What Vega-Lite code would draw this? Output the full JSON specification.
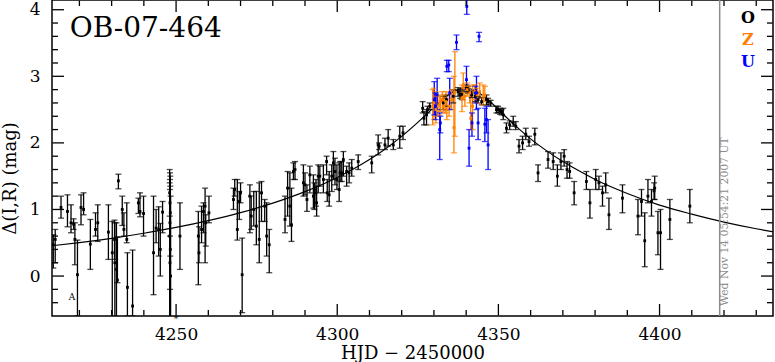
{
  "$schema": "https://vega.github.io/schema/vega-lite/v6.json",
  "width": 721,
  "height": 316,
  "autosize": {"type": "none"},
  "padding": {"left": 52, "top": 0, "right": 2, "bottom": 46},
  "background": "white",
  "config": {
    "view": {"stroke": "black", "strokeWidth": 1.5},
    "axis": {"domain": false, "grid": false, "ticks": false, "labelFont": "DejaVu Serif", "titleFont": "DejaVu Serif", "labelFontSize": 17, "titleFontSize": 18, "labelColor": "black", "titleColor": "black", "titleFontWeight": "normal"},
    "text": {"font": "DejaVu Serif"}
  },
  "datasets": {
    "xticks": [
      {"v": 4220, "k": "minor"}, {"v": 4230, "k": "minor"}, {"v": 4240, "k": "minor"}, {"v": 4250, "k": "major"},
      {"v": 4260, "k": "minor"}, {"v": 4270, "k": "minor"}, {"v": 4280, "k": "minor"}, {"v": 4290, "k": "minor"},
      {"v": 4300, "k": "major"}, {"v": 4310, "k": "minor"}, {"v": 4320, "k": "minor"}, {"v": 4330, "k": "minor"},
      {"v": 4340, "k": "minor"}, {"v": 4350, "k": "major"}, {"v": 4360, "k": "minor"}, {"v": 4370, "k": "minor"},
      {"v": 4380, "k": "minor"}, {"v": 4390, "k": "minor"}, {"v": 4400, "k": "major"}, {"v": 4410, "k": "minor"},
      {"v": 4420, "k": "minor"}, {"v": 4430, "k": "minor"}
    ],
    "yticks": [
      {"v": -0.4, "k": "minor"}, {"v": -0.2, "k": "minor"}, {"v": 0, "k": "major"}, {"v": 0.2, "k": "minor"},
      {"v": 0.4, "k": "minor"}, {"v": 0.6, "k": "minor"}, {"v": 0.8, "k": "minor"}, {"v": 1, "k": "major"},
      {"v": 1.2, "k": "minor"}, {"v": 1.4, "k": "minor"}, {"v": 1.6, "k": "minor"}, {"v": 1.8, "k": "minor"},
      {"v": 2, "k": "major"}, {"v": 2.2, "k": "minor"}, {"v": 2.4, "k": "minor"}, {"v": 2.6, "k": "minor"},
      {"v": 2.8, "k": "minor"}, {"v": 3, "k": "major"}, {"v": 3.2, "k": "minor"}, {"v": 3.4, "k": "minor"},
      {"v": 3.6, "k": "minor"}, {"v": 3.8, "k": "minor"}, {"v": 4, "k": "major"}
    ],
    "curve": [
      {"t": 4211.5, "f": 0.455}, {"t": 4220, "f": 0.502}, {"t": 4230, "f": 0.567}, {"t": 4240, "f": 0.643},
      {"t": 4250, "f": 0.73}, {"t": 4260, "f": 0.832}, {"t": 4270, "f": 0.952}, {"t": 4280, "f": 1.095},
      {"t": 4290, "f": 1.268}, {"t": 4300, "f": 1.481}, {"t": 4305, "f": 1.607}, {"t": 4310, "f": 1.749},
      {"t": 4315, "f": 1.912}, {"t": 4320, "f": 2.098}, {"t": 4325, "f": 2.308}, {"t": 4330, "f": 2.534},
      {"t": 4333, "f": 2.663}, {"t": 4336, "f": 2.768}, {"t": 4338, "f": 2.812}, {"t": 4340, "f": 2.829},
      {"t": 4342, "f": 2.8}, {"t": 4344, "f": 2.75}, {"t": 4347, "f": 2.64}, {"t": 4350, "f": 2.5},
      {"t": 4355, "f": 2.27}, {"t": 4360, "f": 2.06}, {"t": 4365, "f": 1.88}, {"t": 4370, "f": 1.72},
      {"t": 4375, "f": 1.58}, {"t": 4380, "f": 1.45}, {"t": 4390, "f": 1.24}, {"t": 4400, "f": 1.065},
      {"t": 4410, "f": 0.93}, {"t": 4420, "f": 0.81}, {"t": 4430, "f": 0.71}, {"t": 4435.2, "f": 0.665}
    ],
    "obs": [
      {"t": 4211.9, "m": 0.47, "lo": 0.12, "hi": 0.62, "s": "O"},
      {"t": 4212.5, "m": 0.55, "lo": 0.2, "hi": 0.7, "s": "O"},
      {"t": 4214.3, "m": 1.03, "lo": 0.87, "hi": 1.2, "s": "O"},
      {"t": 4216.3, "m": 0.97, "lo": 0.74, "hi": 1.22, "s": "O"},
      {"t": 4217.4, "m": 0.8, "lo": 0.65, "hi": 1.07, "s": "O"},
      {"t": 4218.2, "m": 0.78, "lo": 0.7, "hi": 0.86, "s": "O"},
      {"t": 4218.6, "m": 0.55, "lo": 0.17, "hi": 0.8, "s": "O"},
      {"t": 4219.4, "m": 0.02, "lo": -0.6, "hi": 0.54, "s": "O"},
      {"t": 4220.5, "m": 1.03, "lo": 0.77, "hi": 1.22, "s": "O"},
      {"t": 4221.3, "m": 1.0, "lo": 0.92, "hi": 1.25, "s": "O"},
      {"t": 4223.4, "m": 0.48, "lo": 0.1, "hi": 0.85, "s": "O"},
      {"t": 4225.0, "m": 0.7, "lo": 0.6, "hi": 0.95, "s": "O"},
      {"t": 4225.7, "m": 0.8, "lo": 0.52, "hi": 1.07, "s": "O"},
      {"t": 4229.0, "m": 0.66, "lo": 0.25, "hi": 1.07, "s": "O"},
      {"t": 4230.2, "m": 0.35, "lo": -0.8, "hi": 0.82, "s": "O"},
      {"t": 4230.9, "m": 0.55, "lo": 0.25, "hi": 0.84, "s": "O"},
      {"t": 4231.0, "m": 0.2, "lo": -0.8, "hi": 0.8, "s": "O"},
      {"t": 4231.5, "m": 0.1, "lo": -0.8, "hi": 0.8, "s": "O"},
      {"t": 4231.8, "m": -0.06, "lo": -0.1, "hi": 0.59, "s": "O"},
      {"t": 4232.1, "m": 1.43, "lo": 1.31, "hi": 1.53, "s": "O"},
      {"t": 4233.3, "m": 1.0, "lo": 0.76, "hi": 1.2, "s": "O"},
      {"t": 4233.8, "m": 0.7, "lo": 0.6, "hi": 0.95, "s": "O"},
      {"t": 4234.7, "m": 0.55, "lo": 0.5, "hi": 1.1, "s": "O"},
      {"t": 4234.9, "m": -0.17, "lo": -0.6, "hi": 0.35, "s": "O"},
      {"t": 4236.5, "m": -0.45, "lo": -0.6, "hi": 0.39, "s": "O"},
      {"t": 4238.3, "m": 1.1, "lo": 0.94, "hi": 1.17, "s": "O"},
      {"t": 4238.8, "m": 0.97, "lo": 0.89, "hi": 1.25, "s": "O"},
      {"t": 4239.9, "m": 0.94, "lo": 0.6, "hi": 1.2, "s": "O"},
      {"t": 4243.0, "m": 0.35, "lo": -0.28, "hi": 1.2, "s": "O"},
      {"t": 4243.8, "m": 0.72, "lo": 0.5, "hi": 1.0, "s": "O"},
      {"t": 4244.6, "m": 0.7, "lo": 0.3, "hi": 1.04, "s": "O"},
      {"t": 4245.1, "m": 0.4, "lo": 0.0, "hi": 0.79, "s": "O"},
      {"t": 4245.8, "m": 0.96, "lo": 0.65, "hi": 1.12, "s": "O"},
      {"t": 4248.0, "m": 1.25, "lo": 0.9, "hi": 1.6, "s": "O"},
      {"t": 4248.1, "m": 1.1, "lo": 0.6, "hi": 1.55, "s": "O"},
      {"t": 4248.2, "m": 0.95, "lo": 0.3, "hi": 1.5, "s": "O"},
      {"t": 4248.1, "m": 0.8, "lo": -0.2, "hi": 1.45, "s": "O"},
      {"t": 4248.0, "m": 0.6, "lo": -0.8, "hi": 1.4, "s": "O"},
      {"t": 4248.2, "m": 0.4, "lo": -0.8, "hi": 1.35, "s": "O"},
      {"t": 4248.1, "m": 0.2, "lo": -0.8, "hi": 1.3, "s": "O"},
      {"t": 4248.3, "m": 0.0, "lo": -0.8, "hi": 1.2, "s": "O"},
      {"t": 4251.2, "m": 0.6, "lo": 0.1, "hi": 1.1, "s": "O"},
      {"t": 4256.9, "m": 0.6, "lo": -0.13, "hi": 0.97, "s": "O"},
      {"t": 4257.1, "m": 0.35, "lo": 0.2, "hi": 0.74, "s": "O"},
      {"t": 4257.9, "m": 0.7, "lo": 0.5, "hi": 1.05, "s": "O"},
      {"t": 4258.5, "m": 0.97, "lo": 0.65, "hi": 1.1, "s": "O"},
      {"t": 4259.0, "m": 1.05, "lo": 0.2, "hi": 1.32, "s": "O"},
      {"t": 4259.2, "m": 0.8, "lo": 0.45, "hi": 0.92, "s": "O"},
      {"t": 4260.2, "m": 0.95, "lo": 0.8, "hi": 1.2, "s": "O"},
      {"t": 4267.8, "m": 1.15, "lo": 1.0, "hi": 1.32, "s": "O"},
      {"t": 4268.2, "m": 1.3, "lo": 1.2, "hi": 1.45, "s": "O"},
      {"t": 4269.0, "m": 0.7, "lo": 0.54, "hi": 1.45, "s": "O"},
      {"t": 4269.6, "m": 1.12, "lo": 0.85, "hi": 1.27, "s": "O"},
      {"t": 4270.0, "m": 1.25, "lo": 1.1, "hi": 1.4, "s": "O"},
      {"t": 4270.5, "m": 0.02, "lo": -0.55, "hi": 0.57, "s": "O"},
      {"t": 4272.9, "m": 1.2, "lo": 0.65, "hi": 1.37, "s": "O"},
      {"t": 4273.3, "m": 0.9, "lo": 0.7, "hi": 1.2, "s": "O"},
      {"t": 4274.1, "m": 1.0, "lo": 0.75, "hi": 1.27, "s": "O"},
      {"t": 4274.9, "m": 0.75, "lo": 0.47, "hi": 1.27, "s": "O"},
      {"t": 4275.8, "m": 0.55, "lo": 0.2, "hi": 1.4, "s": "O"},
      {"t": 4276.5, "m": 1.25, "lo": 0.82, "hi": 1.42, "s": "O"},
      {"t": 4277.5, "m": 1.05, "lo": 0.82, "hi": 1.15, "s": "O"},
      {"t": 4278.1, "m": 0.6, "lo": 0.3, "hi": 1.1, "s": "O"},
      {"t": 4278.9, "m": 0.47, "lo": 0.05, "hi": 0.7, "s": "O"},
      {"t": 4283.8, "m": 0.85, "lo": 0.65, "hi": 1.2, "s": "O"},
      {"t": 4284.6, "m": 1.32, "lo": 0.9, "hi": 1.57, "s": "O"},
      {"t": 4285.3, "m": 1.05, "lo": 0.75, "hi": 1.55, "s": "O"},
      {"t": 4285.8, "m": 0.77, "lo": 0.52, "hi": 1.32, "s": "O"},
      {"t": 4286.4, "m": 1.57, "lo": 1.45, "hi": 1.7, "s": "O"},
      {"t": 4286.9, "m": 1.6, "lo": 1.45, "hi": 1.72, "s": "O"},
      {"t": 4289.5, "m": 1.4, "lo": 1.2, "hi": 1.67, "s": "O"},
      {"t": 4290.0, "m": 1.37, "lo": 1.22, "hi": 1.55, "s": "O"},
      {"t": 4290.6, "m": 1.15, "lo": 0.97, "hi": 1.37, "s": "O"},
      {"t": 4291.5, "m": 1.52, "lo": 1.25, "hi": 1.65, "s": "O"},
      {"t": 4292.6, "m": 1.2, "lo": 1.02, "hi": 1.52, "s": "O"},
      {"t": 4292.9, "m": 1.3, "lo": 1.0, "hi": 1.4, "s": "O"},
      {"t": 4293.4, "m": 1.25, "lo": 1.05, "hi": 1.45, "s": "O"},
      {"t": 4293.6, "m": 1.1, "lo": 0.9, "hi": 1.35, "s": "O"},
      {"t": 4294.1, "m": 1.5, "lo": 1.25, "hi": 1.67, "s": "O"},
      {"t": 4294.6, "m": 1.5, "lo": 1.35, "hi": 1.65, "s": "O"},
      {"t": 4295.7, "m": 1.45, "lo": 1.25, "hi": 1.67, "s": "O"},
      {"t": 4296.7, "m": 1.72, "lo": 1.52, "hi": 1.8, "s": "O"},
      {"t": 4296.9, "m": 1.25, "lo": 1.12, "hi": 1.45, "s": "O"},
      {"t": 4297.5, "m": 1.22, "lo": 1.05, "hi": 1.57, "s": "O"},
      {"t": 4298.3, "m": 1.5, "lo": 1.27, "hi": 1.67, "s": "O"},
      {"t": 4298.8, "m": 1.7, "lo": 1.45, "hi": 1.87, "s": "O"},
      {"t": 4299.3, "m": 1.57, "lo": 1.37, "hi": 1.77, "s": "O"},
      {"t": 4299.9, "m": 1.45, "lo": 1.3, "hi": 1.67, "s": "O"},
      {"t": 4300.6, "m": 1.3, "lo": 1.12, "hi": 1.7, "s": "O"},
      {"t": 4300.9, "m": 1.55, "lo": 1.42, "hi": 1.72, "s": "O"},
      {"t": 4301.4, "m": 1.55, "lo": 1.42, "hi": 1.72, "s": "O"},
      {"t": 4301.9, "m": 1.75, "lo": 1.5, "hi": 1.87, "s": "O"},
      {"t": 4302.9, "m": 1.57, "lo": 1.35, "hi": 1.65, "s": "O"},
      {"t": 4303.7, "m": 1.55, "lo": 1.4, "hi": 1.7, "s": "O"},
      {"t": 4304.5, "m": 1.62, "lo": 1.5, "hi": 1.75, "s": "O"},
      {"t": 4306.5, "m": 1.72, "lo": 1.6, "hi": 1.82, "s": "O"},
      {"t": 4310.7, "m": 1.7, "lo": 1.55, "hi": 1.8, "s": "O"},
      {"t": 4312.7, "m": 1.97, "lo": 1.82, "hi": 2.12, "s": "O"},
      {"t": 4313.0, "m": 1.95, "lo": 1.9, "hi": 2.0, "s": "O"},
      {"t": 4314.8, "m": 1.97, "lo": 1.9, "hi": 2.07, "s": "O"},
      {"t": 4315.8, "m": 2.07, "lo": 1.95, "hi": 2.2, "s": "O"},
      {"t": 4317.4, "m": 1.97, "lo": 1.9, "hi": 2.05, "s": "O"},
      {"t": 4319.4, "m": 2.1, "lo": 1.92, "hi": 2.25, "s": "O"},
      {"t": 4320.4, "m": 2.15, "lo": 2.05, "hi": 2.25, "s": "O"},
      {"t": 4326.5, "m": 2.52, "lo": 2.45, "hi": 2.62, "s": "O"},
      {"t": 4326.9, "m": 2.37, "lo": 2.27, "hi": 2.47, "s": "O"},
      {"t": 4327.7, "m": 2.42, "lo": 2.27, "hi": 2.5, "s": "O"},
      {"t": 4328.0, "m": 2.5, "lo": 2.45, "hi": 2.55, "s": "O"},
      {"t": 4328.7, "m": 2.55, "lo": 2.5, "hi": 2.6, "s": "O"},
      {"t": 4332.9, "m": 2.6, "lo": 2.5, "hi": 2.7, "s": "O"},
      {"t": 4333.9, "m": 2.65, "lo": 2.55, "hi": 2.72, "s": "O"},
      {"t": 4336.0, "m": 2.7, "lo": 2.6, "hi": 2.8, "s": "O"},
      {"t": 4337.5, "m": 2.77, "lo": 2.7, "hi": 2.83, "s": "O"},
      {"t": 4338.1, "m": 2.73, "lo": 2.67, "hi": 2.8, "s": "O"},
      {"t": 4338.6, "m": 2.73, "lo": 2.65, "hi": 2.78, "s": "O"},
      {"t": 4340.1, "m": 2.82, "lo": 2.77, "hi": 2.87, "s": "O"},
      {"t": 4340.6, "m": 2.8, "lo": 2.75, "hi": 2.85, "s": "O"},
      {"t": 4341.7, "m": 2.72, "lo": 2.68, "hi": 2.78, "s": "O"},
      {"t": 4342.8, "m": 2.7, "lo": 2.62, "hi": 2.75, "s": "O"},
      {"t": 4343.7, "m": 2.65, "lo": 2.6, "hi": 2.7, "s": "O"},
      {"t": 4344.8, "m": 2.62, "lo": 2.57, "hi": 2.68, "s": "O"},
      {"t": 4346.3, "m": 2.65, "lo": 2.57, "hi": 2.72, "s": "O"},
      {"t": 4346.8, "m": 2.62, "lo": 2.57, "hi": 2.67, "s": "O"},
      {"t": 4347.6, "m": 2.6, "lo": 2.55, "hi": 2.64, "s": "O"},
      {"t": 4349.4, "m": 2.5, "lo": 2.45, "hi": 2.55, "s": "O"},
      {"t": 4349.9, "m": 2.5, "lo": 2.45, "hi": 2.55, "s": "O"},
      {"t": 4350.5, "m": 2.48, "lo": 2.43, "hi": 2.52, "s": "O"},
      {"t": 4351.0, "m": 2.47, "lo": 2.42, "hi": 2.5, "s": "O"},
      {"t": 4351.5, "m": 2.42, "lo": 2.35, "hi": 2.52, "s": "O"},
      {"t": 4352.5, "m": 2.22, "lo": 2.15, "hi": 2.3, "s": "O"},
      {"t": 4353.5, "m": 2.27, "lo": 2.2, "hi": 2.33, "s": "O"},
      {"t": 4354.6, "m": 2.3, "lo": 2.25, "hi": 2.4, "s": "O"},
      {"t": 4355.4, "m": 2.25, "lo": 2.2, "hi": 2.32, "s": "O"},
      {"t": 4356.4, "m": 1.95, "lo": 1.85, "hi": 2.05, "s": "O"},
      {"t": 4357.5, "m": 2.0, "lo": 1.9, "hi": 2.1, "s": "O"},
      {"t": 4358.5, "m": 2.13, "lo": 2.05, "hi": 2.22, "s": "O"},
      {"t": 4359.5, "m": 2.02, "lo": 1.95, "hi": 2.1, "s": "O"},
      {"t": 4361.3, "m": 2.13, "lo": 1.97, "hi": 2.22, "s": "O"},
      {"t": 4362.3, "m": 1.55, "lo": 1.42, "hi": 1.67, "s": "O"},
      {"t": 4365.4, "m": 1.75, "lo": 1.62, "hi": 1.87, "s": "O"},
      {"t": 4367.0, "m": 1.72, "lo": 1.6, "hi": 1.85, "s": "O"},
      {"t": 4368.3, "m": 1.5, "lo": 1.35, "hi": 1.67, "s": "O"},
      {"t": 4369.4, "m": 1.72, "lo": 1.6, "hi": 1.85, "s": "O"},
      {"t": 4370.4, "m": 1.8, "lo": 1.65, "hi": 1.9, "s": "O"},
      {"t": 4371.3, "m": 1.6, "lo": 1.47, "hi": 1.72, "s": "O"},
      {"t": 4372.1, "m": 1.57, "lo": 1.47, "hi": 1.7, "s": "O"},
      {"t": 4373.5, "m": 1.25, "lo": 1.07, "hi": 1.42, "s": "O"},
      {"t": 4377.3, "m": 1.42, "lo": 1.3, "hi": 1.57, "s": "O"},
      {"t": 4378.4, "m": 1.1, "lo": 0.87, "hi": 1.3, "s": "O"},
      {"t": 4380.2, "m": 1.45, "lo": 1.3, "hi": 1.6, "s": "O"},
      {"t": 4381.2, "m": 1.4, "lo": 1.3, "hi": 1.5, "s": "O"},
      {"t": 4382.3, "m": 1.25, "lo": 1.05, "hi": 1.35, "s": "O"},
      {"t": 4383.3, "m": 1.37, "lo": 1.25, "hi": 1.55, "s": "O"},
      {"t": 4384.3, "m": 0.92, "lo": 0.7, "hi": 1.17, "s": "O"},
      {"t": 4388.5, "m": 1.17, "lo": 0.95, "hi": 1.37, "s": "O"},
      {"t": 4393.3, "m": 0.9, "lo": 0.62, "hi": 1.15, "s": "O"},
      {"t": 4394.4, "m": 1.12, "lo": 0.9, "hi": 1.3, "s": "O"},
      {"t": 4395.4, "m": 0.53, "lo": 0.14, "hi": 0.95, "s": "O"},
      {"t": 4396.4, "m": 1.2, "lo": 1.1, "hi": 1.45, "s": "O"},
      {"t": 4397.5, "m": 1.12, "lo": 0.9, "hi": 1.3, "s": "O"},
      {"t": 4398.3, "m": 1.28, "lo": 1.15, "hi": 1.4, "s": "O"},
      {"t": 4398.5, "m": 1.32, "lo": 1.15, "hi": 1.5, "s": "O"},
      {"t": 4399.5, "m": 0.65, "lo": 0.32, "hi": 0.97, "s": "O"},
      {"t": 4400.3, "m": 0.65, "lo": 0.1, "hi": 1.0, "s": "O"},
      {"t": 4403.2, "m": 0.85, "lo": 0.55, "hi": 1.15, "s": "O"},
      {"t": 4409.4, "m": 1.05, "lo": 0.8, "hi": 1.3, "s": "O"},
      {"t": 4329.6, "m": 2.55, "lo": 2.27, "hi": 2.8, "s": "Z"},
      {"t": 4330.0, "m": 2.6, "lo": 2.35, "hi": 2.82, "s": "Z"},
      {"t": 4330.6, "m": 2.5, "lo": 2.3, "hi": 2.77, "s": "Z"},
      {"t": 4331.0, "m": 2.55, "lo": 2.4, "hi": 2.7, "s": "Z"},
      {"t": 4331.6, "m": 2.57, "lo": 2.42, "hi": 2.72, "s": "Z"},
      {"t": 4332.0, "m": 2.62, "lo": 2.47, "hi": 2.7, "s": "Z"},
      {"t": 4332.6, "m": 2.65, "lo": 2.5, "hi": 2.77, "s": "Z"},
      {"t": 4333.1, "m": 2.55, "lo": 2.45, "hi": 2.72, "s": "Z"},
      {"t": 4333.7, "m": 2.62, "lo": 2.45, "hi": 2.77, "s": "Z"},
      {"t": 4334.0, "m": 2.5, "lo": 2.35, "hi": 2.65, "s": "Z"},
      {"t": 4334.7, "m": 2.55, "lo": 2.4, "hi": 2.75, "s": "Z"},
      {"t": 4335.5, "m": 2.65, "lo": 2.5, "hi": 2.8, "s": "Z"},
      {"t": 4336.2, "m": 2.23, "lo": 1.85, "hi": 3.0, "s": "Z"},
      {"t": 4336.5, "m": 2.75, "lo": 2.1, "hi": 3.37, "s": "Z"},
      {"t": 4338.7, "m": 2.67, "lo": 2.47, "hi": 2.87, "s": "Z"},
      {"t": 4339.1, "m": 2.87, "lo": 2.65, "hi": 3.05, "s": "Z"},
      {"t": 4339.6, "m": 2.7, "lo": 2.55, "hi": 2.85, "s": "Z"},
      {"t": 4340.3, "m": 2.8, "lo": 2.7, "hi": 2.9, "s": "Z"},
      {"t": 4341.1, "m": 2.75, "lo": 2.6, "hi": 2.85, "s": "Z"},
      {"t": 4341.4, "m": 2.37, "lo": 2.2, "hi": 2.72, "s": "Z"},
      {"t": 4342.0, "m": 2.55, "lo": 2.2, "hi": 2.87, "s": "Z"},
      {"t": 4342.7, "m": 2.77, "lo": 2.65, "hi": 2.87, "s": "Z"},
      {"t": 4343.4, "m": 2.72, "lo": 2.6, "hi": 2.82, "s": "Z"},
      {"t": 4344.2, "m": 2.77, "lo": 2.67, "hi": 2.9, "s": "Z"},
      {"t": 4345.3, "m": 2.7, "lo": 2.57, "hi": 2.87, "s": "Z"},
      {"t": 4345.8, "m": 2.72, "lo": 2.62, "hi": 2.85, "s": "Z"},
      {"t": 4340.2, "m": 4.05, "lo": 3.93, "hi": 4.2, "s": "U"},
      {"t": 4337.0, "m": 3.51, "lo": 3.4, "hi": 3.62, "s": "U"},
      {"t": 4344.0, "m": 3.6, "lo": 3.52, "hi": 3.66, "s": "U"},
      {"t": 4334.0, "m": 3.15, "lo": 3.07, "hi": 3.24, "s": "U"},
      {"t": 4334.6, "m": 3.17, "lo": 3.07, "hi": 3.24, "s": "U"},
      {"t": 4340.1, "m": 2.95, "lo": 2.8, "hi": 3.15, "s": "U"},
      {"t": 4343.2, "m": 2.75, "lo": 2.5, "hi": 3.0, "s": "U"},
      {"t": 4330.1, "m": 2.65, "lo": 2.42, "hi": 2.92, "s": "U"},
      {"t": 4330.5, "m": 2.55, "lo": 2.35, "hi": 2.75, "s": "U"},
      {"t": 4331.0, "m": 2.72, "lo": 2.5, "hi": 2.97, "s": "U"},
      {"t": 4331.8, "m": 2.2, "lo": 1.75, "hi": 2.45, "s": "U"},
      {"t": 4332.0, "m": 2.3, "lo": 2.15, "hi": 2.4, "s": "U"},
      {"t": 4334.9, "m": 2.75, "lo": 2.5, "hi": 2.97, "s": "U"},
      {"t": 4340.9, "m": 1.92, "lo": 1.65, "hi": 2.2, "s": "U"},
      {"t": 4341.8, "m": 2.3, "lo": 2.1, "hi": 2.45, "s": "U"},
      {"t": 4342.9, "m": 2.75, "lo": 2.6, "hi": 2.85, "s": "U"},
      {"t": 4343.7, "m": 2.3, "lo": 2.05, "hi": 2.52, "s": "U"},
      {"t": 4345.8, "m": 2.28, "lo": 2.02, "hi": 2.52, "s": "U"},
      {"t": 4346.3, "m": 2.35, "lo": 2.15, "hi": 2.55, "s": "U"},
      {"t": 4346.8, "m": 1.97, "lo": 1.6, "hi": 2.35, "s": "U"}
    ]
  },
  "layer": [
    {
      "data": {"name": "curve"},
      "mark": {"type": "line", "color": "black", "strokeWidth": 1.2, "clip": true, "interpolate": "monotone"},
      "encoding": {
        "x": {"field": "t", "type": "quantitative", "scale": {"domain": [4211.5, 4435.2], "nice": false, "zero": false},
              "axis": {"orient": "bottom", "values": [4250, 4300, 4350, 4400], "labelPadding": 10, "format": "d", "title": "HJD − 2450000", "titleY": 37, "titleBaseline": "middle"}},
        "y": {"field": "f", "type": "quantitative", "scale": {"domain": [-0.6, 4.146], "nice": false, "zero": false},
              "axis": {"orient": "left", "values": [0, 1, 2, 3, 4], "format": "d", "labelPadding": 12, "title": "Δ(I,R) (mag)", "titleX": -42, "titleY": 178, "titleAngle": 270, "titleBaseline": "middle", "titleAlign": "center"}}
      }
    },
    {
      "data": {"name": "obs"},
      "mark": {"type": "rule", "strokeWidth": 1.3, "clip": true},
      "encoding": {
        "x": {"field": "t", "type": "quantitative"},
        "y": {"field": "lo", "type": "quantitative"},
        "y2": {"field": "hi"},
        "color": {"field": "s", "type": "nominal", "scale": {"domain": ["O", "Z", "U"], "range": ["#000000", "#ff8000", "#0000ff"]}, "legend": null}
      }
    },
    {
      "data": {"name": "obs"},
      "mark": {"type": "tick", "orient": "horizontal", "size": 6, "thickness": 1.3, "clip": true},
      "encoding": {
        "x": {"field": "t", "type": "quantitative"},
        "y": {"field": "lo", "type": "quantitative"},
        "color": {"field": "s", "type": "nominal", "legend": null}
      }
    },
    {
      "data": {"name": "obs"},
      "mark": {"type": "tick", "orient": "horizontal", "size": 6, "thickness": 1.3, "clip": true},
      "encoding": {
        "x": {"field": "t", "type": "quantitative"},
        "y": {"field": "hi", "type": "quantitative"},
        "color": {"field": "s", "type": "nominal", "legend": null}
      }
    },
    {
      "data": {"name": "obs"},
      "mark": {"type": "square", "size": 8, "filled": true, "opacity": 1, "clip": true},
      "encoding": {
        "x": {"field": "t", "type": "quantitative"},
        "y": {"field": "m", "type": "quantitative"},
        "color": {"field": "s", "type": "nominal", "legend": null}
      }
    },
    {
      "data": {"name": "xticks"},
      "transform": [{"filter": {"field": "k", "equal": "major"}}],
      "mark": {"type": "rule", "color": "black", "strokeWidth": 1.3},
      "encoding": {"x": {"field": "v", "type": "quantitative"}, "y": {"datum": -0.59, "type": "quantitative"}, "y2": {"datum": -0.4198}}
    },
    {
      "data": {"name": "xticks"},
      "transform": [{"filter": {"field": "k", "equal": "minor"}}],
      "mark": {"type": "rule", "color": "black", "strokeWidth": 1.3},
      "encoding": {"x": {"field": "v", "type": "quantitative"}, "y": {"datum": -0.59, "type": "quantitative"}, "y2": {"datum": -0.5099}}
    },
    {
      "data": {"name": "xticks"},
      "transform": [{"filter": {"field": "k", "equal": "major"}}],
      "mark": {"type": "rule", "color": "black", "strokeWidth": 1.3},
      "encoding": {"x": {"field": "v", "type": "quantitative"}, "y": {"datum": 4.136, "type": "quantitative"}, "y2": {"datum": 3.9658}}
    },
    {
      "data": {"name": "xticks"},
      "transform": [{"filter": {"field": "k", "equal": "minor"}}],
      "mark": {"type": "rule", "color": "black", "strokeWidth": 1.3},
      "encoding": {"x": {"field": "v", "type": "quantitative"}, "y": {"datum": 4.136, "type": "quantitative"}, "y2": {"datum": 4.0559}}
    },
    {
      "data": {"name": "yticks"},
      "transform": [{"filter": {"field": "k", "equal": "major"}}],
      "mark": {"type": "rule", "color": "black", "strokeWidth": 1.3},
      "encoding": {"y": {"field": "v", "type": "quantitative"}, "x": {"datum": 4211.6, "type": "quantitative"}, "x2": {"datum": 4215.223}}
    },
    {
      "data": {"name": "yticks"},
      "transform": [{"filter": {"field": "k", "equal": "minor"}}],
      "mark": {"type": "rule", "color": "black", "strokeWidth": 1.3},
      "encoding": {"y": {"field": "v", "type": "quantitative"}, "x": {"datum": 4211.6, "type": "quantitative"}, "x2": {"datum": 4213.362}}
    },
    {
      "data": {"name": "yticks"},
      "transform": [{"filter": {"field": "k", "equal": "major"}}],
      "mark": {"type": "rule", "color": "black", "strokeWidth": 1.3},
      "encoding": {"y": {"field": "v", "type": "quantitative"}, "x": {"datum": 4435.1, "type": "quantitative"}, "x2": {"datum": 4431.477}}
    },
    {
      "data": {"name": "yticks"},
      "transform": [{"filter": {"field": "k", "equal": "minor"}}],
      "mark": {"type": "rule", "color": "black", "strokeWidth": 1.3},
      "encoding": {"y": {"field": "v", "type": "quantitative"}, "x": {"datum": 4435.1, "type": "quantitative"}, "x2": {"datum": 4433.338}}
    },
    {
      "data": {"values": [{}]},
      "mark": {"type": "rule", "color": "#8c8c8c", "strokeWidth": 1.5},
      "encoding": {"x": {"datum": 4418.66, "type": "quantitative"}}
    },
    {
      "data": {"values": [{}]},
      "mark": {"type": "text", "text": "Wed Nov 14 05:54:21 2007 UT", "angle": 270, "align": "left", "baseline": "middle", "fontSize": 10.8, "color": "#8c8c8c", "font": "DejaVu Serif"},
      "encoding": {"x": {"datum": 4420.46, "type": "quantitative"}, "y": {"datum": -0.45, "type": "quantitative"}}
    },
    {
      "data": {"values": [{}]},
      "mark": {"type": "text", "text": "OB-07-464", "align": "left", "baseline": "alphabetic", "fontSize": 28, "color": "black", "font": "DejaVu Serif"},
      "encoding": {"x": {"datum": 4217.0, "type": "quantitative"}, "y": {"datum": 3.595, "type": "quantitative"}}
    },
    {
      "data": {"values": [{}]},
      "mark": {"type": "text", "text": "O", "align": "center", "baseline": "alphabetic", "fontSize": 16, "fontWeight": "bold", "color": "black", "font": "DejaVu Serif"},
      "encoding": {"x": {"datum": 4427.4, "type": "quantitative"}, "y": {"datum": 3.796, "type": "quantitative"}}
    },
    {
      "data": {"values": [{}]},
      "mark": {"type": "text", "text": "Z", "align": "center", "baseline": "alphabetic", "fontSize": 16, "fontWeight": "bold", "color": "#ff8000", "font": "DejaVu Serif"},
      "encoding": {"x": {"datum": 4427.4, "type": "quantitative"}, "y": {"datum": 3.47, "type": "quantitative"}}
    },
    {
      "data": {"values": [{}]},
      "mark": {"type": "text", "text": "U", "align": "center", "baseline": "alphabetic", "fontSize": 16, "fontWeight": "bold", "color": "#0000ff", "font": "DejaVu Serif"},
      "encoding": {"x": {"datum": 4427.4, "type": "quantitative"}, "y": {"datum": 3.144, "type": "quantitative"}}
    },
    {
      "data": {"values": [{}]},
      "mark": {"type": "text", "text": "A", "align": "center", "baseline": "middle", "fontSize": 9, "color": "black", "font": "DejaVu Serif"},
      "encoding": {"x": {"datum": 4217.7, "type": "quantitative"}, "y": {"datum": -0.32, "type": "quantitative"}}
    },
    {
      "data": {"values": [{}]},
      "mark": {"type": "text", "text": "*", "align": "center", "baseline": "middle", "fontSize": 10, "color": "black", "font": "DejaVu Serif"},
      "encoding": {"x": {"datum": 4250.0, "type": "quantitative"}, "y": {"datum": -0.64, "type": "quantitative"}}
    }
  ]
}
